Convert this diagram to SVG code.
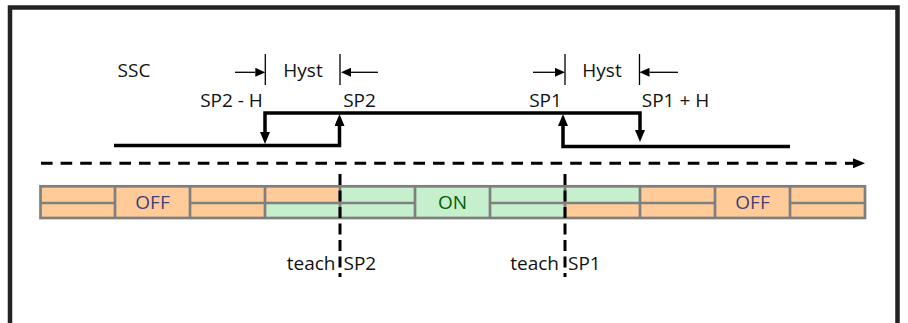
<svg xmlns="http://www.w3.org/2000/svg" width="908" height="323" viewBox="0 0 908 323">
<style>
.t{font-family:"Open Sans","Liberation Sans",sans-serif;font-size:19px;fill:#111}
.m{text-anchor:middle}
.e{text-anchor:end}
.step{fill:none;stroke:#000;stroke-width:3.5}
.thin{fill:none;stroke:#000;stroke-width:1.3}
.grid{fill:none;stroke:#7F7F7F;stroke-width:2.7}
.or{fill:#FFCC99}
.gr{fill:#C6EFCE}
.off{font-family:"Open Sans","Liberation Sans",sans-serif;font-size:19px;fill:#3F3F76;text-anchor:middle}
.on{font-family:"Open Sans","Liberation Sans",sans-serif;font-size:19px;fill:#006100;text-anchor:middle}
.vd{fill:none;stroke:#000;stroke-width:3;stroke-dasharray:11 5.5}
</style>
<defs>
<marker id="big" viewBox="0 0 12 10" refX="0" refY="5" markerWidth="12" markerHeight="10" markerUnits="userSpaceOnUse" orient="auto-start-reverse">
<path d="M0,0 L12,5 L0,10 z" fill="#000"/>
</marker>
<marker id="small" viewBox="0 0 10 9" refX="0" refY="4.5" markerWidth="10" markerHeight="9" markerUnits="userSpaceOnUse" orient="auto-start-reverse">
<path d="M0,0 L10,4.5 L0,9 z" fill="#000"/>
</marker>
</defs>
<path d="M10,323 V7.5 H897.5 V323" fill="none" stroke="#222" stroke-width="4.5"/>
<g id="bar">
<rect class="or" x="40.5" y="186.3" width="824.5" height="31.7"/>
<rect class="gr" x="340" y="186.3" width="225" height="31.7"/>
<rect class="gr" x="265" y="203" width="75" height="15"/>
<rect class="gr" x="565" y="186.3" width="75" height="16.7"/>
<rect class="grid" x="40.5" y="186.3" width="824.5" height="31.7"/>
<path class="grid" d="M115,186.3V218M190,186.3V218M265,186.3V218M340,186.3V218M415,186.3V218M490,186.3V218M565,186.3V218M640,186.3V218M715,186.3V218M790,186.3V218M40.5,203H115M190,203H415M490,203H715M790,203H865"/>
</g>
<g id="cell-off-left"><text class="off" x="152.5" y="208.5">OFF</text></g>
<g id="cell-on"><text class="on" x="452.5" y="208.5">ON</text></g>
<g id="cell-off-right"><text class="off" x="752.5" y="208.5">OFF</text></g>
<g id="labels">
<text class="t m" x="134" y="77">SSC</text>
<text class="t m" x="303" y="77">Hyst</text>
<text class="t m" x="602" y="77">Hyst</text>
<text class="t m" x="231.5" y="106.5">SP2 - H</text>
<text class="t m" x="359.5" y="106.5">SP2</text>
<text class="t m" x="545.5" y="106.5">SP1</text>
<text class="t m" x="675.5" y="106.5">SP1 + H</text>
<text class="t e" x="335.5" y="270">teach</text>
<text class="t" x="343.5" y="270">SP2</text>
<text class="t e" x="559" y="270">teach</text>
<text class="t" x="568" y="270">SP1</text>
</g>
<g id="connectors">
<path class="step" d="M114,145.5 H339.5 V126" marker-end="url(#big)"/>
<path class="step" d="M265,132 V113 H640 V130" marker-start="url(#big)" marker-end="url(#big)"/>
<path class="step" d="M563,126 V146.5 H790" marker-start="url(#big)"/>
<path class="thin" d="M265.3,54V85M340,54V85M565,54V85M639.5,54V85"/>
<path class="thin" d="M235,72.3H255.3" marker-end="url(#small)"/>
<path class="thin" d="M378,72.3H351" marker-end="url(#small)"/>
<path class="thin" d="M533,72.3H555" marker-end="url(#small)"/>
<path class="thin" d="M678,72.3H649.5" marker-end="url(#small)"/>
<path d="M41,163.3H837" fill="none" stroke="#000" stroke-width="3" stroke-dasharray="11.6 8"/>
<path d="M845,163.3H853" fill="none" stroke="#000" stroke-width="3" marker-end="url(#big)"/>
<path class="vd" d="M340,174V277"/>
<path class="vd" d="M565,174V277"/>
</g>
</svg>
